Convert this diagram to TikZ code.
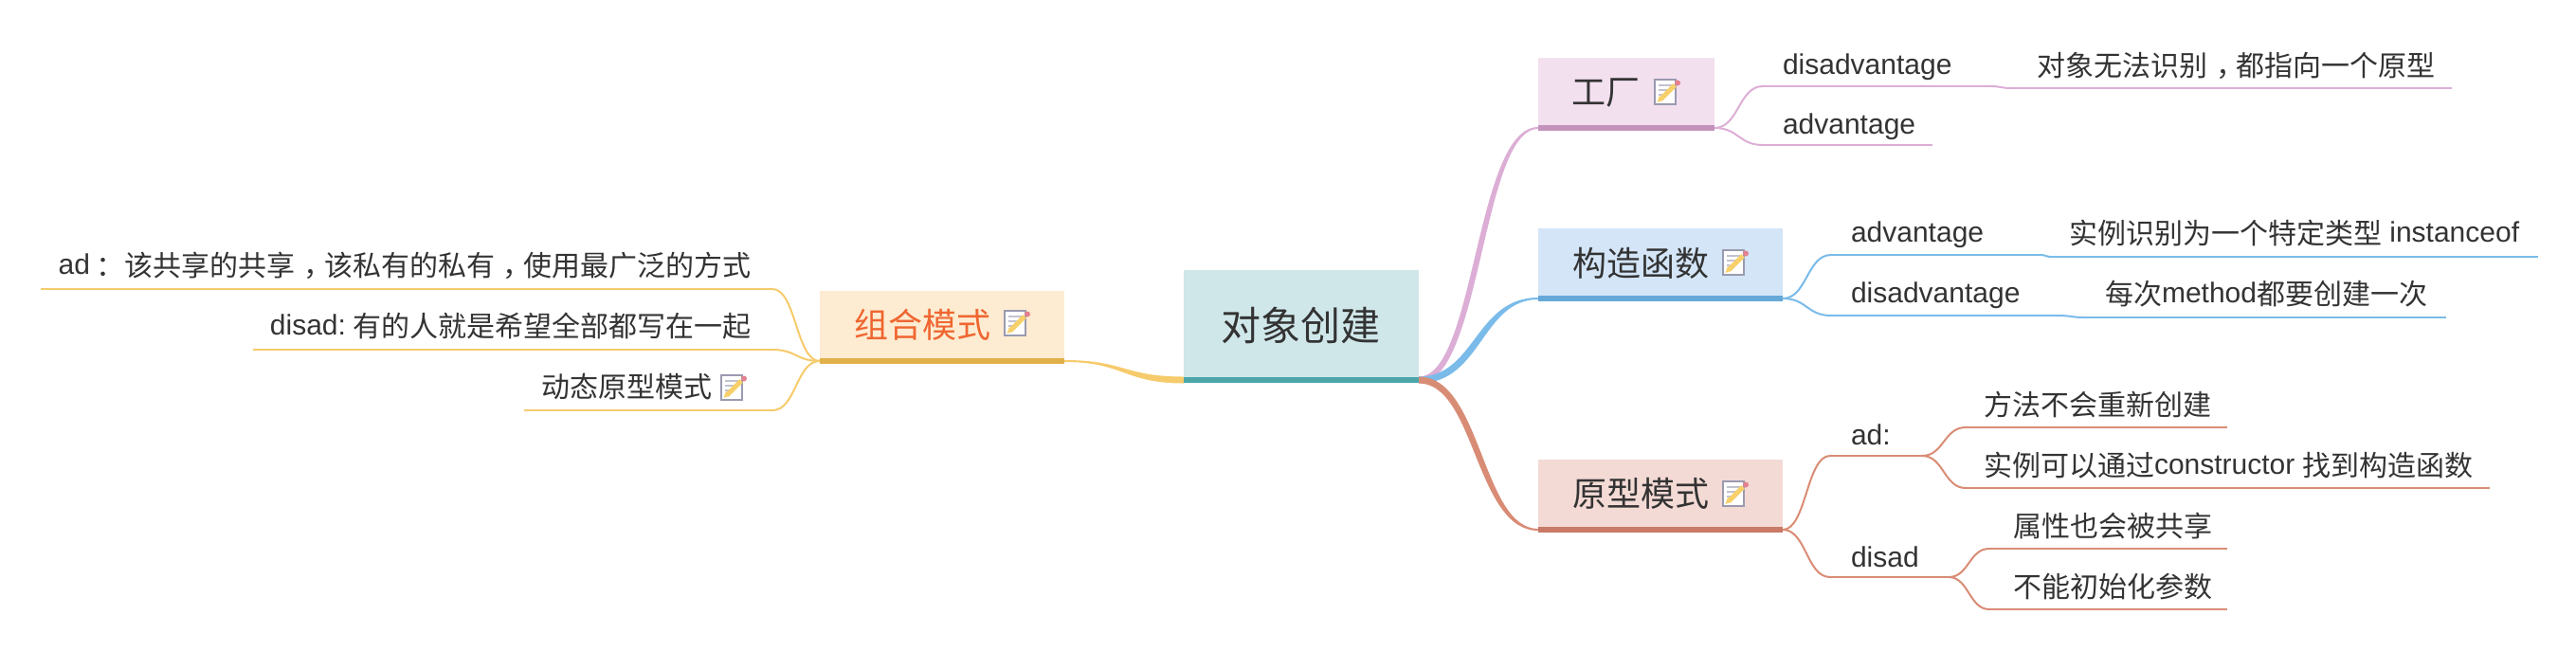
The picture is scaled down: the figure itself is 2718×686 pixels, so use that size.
\documentclass[tikz,border=0pt]{standalone}
\usepackage{fontspec}
\usetikzlibrary{calc}
\setmainfont{Liberation Sans}
\newfontfamily\cjkf{Noto Sans CJK SC}
\definecolor{inkc}{HTML}{333333}
\definecolor{pinkbox}{HTML}{F3E0EF}\definecolor{pinkbar}{HTML}{C493BC}\definecolor{pinkln}{HTML}{DCAED6}
\definecolor{bluebox}{HTML}{D3E5F7}\definecolor{bluebar}{HTML}{66A8D8}\definecolor{blueln}{HTML}{7ABBEA}
\definecolor{redbox}{HTML}{F3DAD5}\definecolor{redbar}{HTML}{C87A66}\definecolor{redln}{HTML}{D98C75}
\definecolor{rootbox}{HTML}{D0E7EA}\definecolor{rootbar}{HTML}{4BA5A9}
\definecolor{orbox}{HTML}{FEECD2}\definecolor{orbar}{HTML}{E0B04A}\definecolor{orln}{HTML}{F6CB6C}\definecolor{ortxt}{HTML}{EF6631}
\definecolor{pencilc}{HTML}{F7D06B}\definecolor{iconln}{HTML}{9A9AB0}\definecolor{icontip}{HTML}{E4808F}
\newcommand\zh[1]{\raisebox{-2.4pt}{\fontsize{30}{36}\cjkf\selectfont #1}}
\newcommand\zhcomma{\hspace{0.3em}，\hspace{-0.3em}}
% tapered connector: colour, from, to, half-width start, half-width end, sideways shift of the bend
\newcommand\taper[6]{\fill[#1] let \p1=(#2),\p2=(#3),\n1={(\x1+\x2)/2} in
  (\x1,\y1+#4pt) .. controls ([xshift=#6pt]\n1,\y1+#4pt) and ([xshift=#6pt]\n1,\y2+#5pt) .. (\x2,\y2+#5pt)
  -- (\x2,\y2-#5pt) .. controls ([xshift=-#6pt]\n1,\y2-#5pt) and ([xshift=-#6pt]\n1,\y1-#4pt) .. (\x1,\y1-#4pt) -- cycle;}
% even curve: style, from, to
\newcommand\conn[3]{\draw[#1] let \p1=(#2),\p2=(#3),\n1={(\x1+\x2)/2} in
  (\x1,\y1) .. controls (\n1,\y1) and (\n1,\y2) .. (\x2,\y2);}
\tikzset{
  x=1pt,y=-1pt,
  boxn/.style={rectangle,inner sep=0pt,outer sep=0pt,anchor=north west},
  roottxt/.style={inner sep=0pt,outer sep=0pt,anchor=base west,text=inkc,font=\fontsize{42}{50}\cjkf\selectfont},
  toptxt/.style={inner sep=0pt,outer sep=0pt,anchor=base west,text=inkc,font=\fontsize{36}{43}\cjkf\selectfont},
  leaf/.style={inner sep=0pt,outer sep=0pt,anchor=base west,text=inkc,font=\fontsize{30}{36}\selectfont},
  leafr/.style={leaf,anchor=base east},
  thin/.style={line width=2pt,line cap=butt},
  noteicon/.pic={
    \fill[white] (1,1) rectangle (23,27);
    \draw[line width=1.8pt,color=iconln] (1,1) rectangle (23,27);
    \draw[line width=1.2pt,color=iconln!60] (5,7) -- (19,7) (5,12) -- (15,12) (5,17) -- (11,17);
    \draw[line width=5pt,color=pencilc] (7,22) -- (22,7);
    \fill[color=pencilc] (3.5,25) -- (6,18) -- (10,22.5) -- cycle;
    \fill[color=icontip] (25,4.5) circle (3);
  }
}
\begin{document}
\begin{tikzpicture}
\useasboundingbox (0,0) rectangle (2718,686);
% boxes
\node[boxn,fill=rootbox,minimum width=248pt,minimum height=119pt] (root) at (1249,285) {};
\node[boxn,fill=pinkbox,minimum width=186pt,minimum height=77pt] (gc) at (1623,61) {};
\node[boxn,fill=bluebox,minimum width=258pt,minimum height=77pt] (gz) at (1623,241) {};
\node[boxn,fill=redbox,minimum width=258pt,minimum height=77pt] (yx) at (1623,485) {};
\node[boxn,fill=orbox,minimum width=258pt,minimum height=77pt] (zh) at (865,307) {};
% connection points
\coordinate (rootR) at ([yshift=3pt]root.south east);
\coordinate (rootL) at ([yshift=3pt]root.south west);
\coordinate (gcL) at ([yshift=3pt]gc.south west);
\coordinate (gcR) at ([yshift=3pt]gc.south east);
\coordinate (gzL) at ([yshift=3pt]gz.south west);
\coordinate (gzR) at ([yshift=3pt]gz.south east);
\coordinate (yxL) at ([yshift=3pt]yx.south west);
\coordinate (yxR) at ([yshift=3pt]yx.south east);
\coordinate (zhR) at ([yshift=3pt]zh.south east);
\coordinate (zhL) at ([yshift=3pt]zh.south west);
% main connectors
\taper{pinkln}{rootR}{gcL}{3.5}{1}{-3.4}
\taper{blueln}{rootR}{gzL}{3.5}{1}{-3.4}
\taper{redln}{rootR}{yxL}{3.5}{1}{3.4}
\taper{orln}{rootL}{zhR}{3.5}{1}{0}
% bars
\fill[rootbar] (root.south west) rectangle ([yshift=6pt]root.south east);
\fill[pinkbar] (gc.south west) rectangle ([yshift=6pt]gc.south east);
\fill[bluebar] (gz.south west) rectangle ([yshift=6pt]gz.south east);
\fill[redbar] (yx.south west) rectangle ([yshift=6pt]yx.south east);
\fill[orbar] (zh.south west) rectangle ([yshift=6pt]zh.south east);
% topic texts
\node[roottxt] (roott) at (1288,359) {对象创建};
\node[toptxt] (gct) at (1658,110) {工厂};
\node[toptxt] (gzt) at (1659,291) {构造函数};
\node[toptxt] (yxt) at (1659,534) {原型模式};
\node[toptxt,text=ortxt] (zht) at (901,356) {组合模式};
\pic at (1745,83) {noteicon};
\pic at (1817,263) {noteicon};
\pic at (1817,507) {noteicon};
\pic at (1059,327) {noteicon};
\pic at (760,395) {noteicon};
% factory branch
\coordinate (a1) at (1860,91); \coordinate (a2) at (2100,91); \coordinate (a3) at (2122,93); \coordinate (a4) at (2587,93);
\coordinate (b1) at (1860,153); \coordinate (b2) at (2039,153);
\conn{thin,pinkln}{gcR}{a1} \draw[thin,pinkln] (a1) -- (a2); \conn{thin,pinkln}{a2}{a3} \draw[thin,pinkln] (a3) -- (a4);
\conn{thin,pinkln}{gcR}{b1} \draw[thin,pinkln] (b1) -- (b2);
\node[leaf] (t1) at (1881,78) {disadvantage};
\node[leaf] (t2) at (2149,78) {\zh{对象无法识别\zhcomma 都指向一个原型}};
\node[leaf] (t3) at (1881,141) {advantage};
% constructor branch
\coordinate (c1) at (1932,269); \coordinate (c2) at (2153,269); \coordinate (c3) at (2164,271); \coordinate (c4) at (2678,271);
\coordinate (d1) at (1932,333); \coordinate (d2) at (2171,333); \coordinate (d3) at (2200,335); \coordinate (d4) at (2581,335);
\conn{thin,blueln}{gzR}{c1} \draw[thin,blueln] (c1) -- (c2); \conn{thin,blueln}{c2}{c3} \draw[thin,blueln] (c3) -- (c4);
\conn{thin,blueln}{gzR}{d1} \draw[thin,blueln] (d1) -- (d2); \conn{thin,blueln}{d2}{d3} \draw[thin,blueln] (d3) -- (d4);
\node[leaf] (t4) at (1953,255) {advantage};
\node[leaf] (t5) at (2183,255) {\zh{实例识别为一个特定类型} instanceof};
\node[leaf] (t6) at (1953,319.5) {disadvantage};
\node[leaf] (t7) at (2221,319.5) {\zh{每次}method\zh{都要创建一次}};
% prototype branch
\coordinate (e1) at (1931,481); \coordinate (e2) at (2028,481);
\coordinate (f1) at (1931,609); \coordinate (f2) at (2056,609);
\coordinate (g1) at (2074,451); \coordinate (g2) at (2350,451);
\coordinate (h1) at (2074,515); \coordinate (h2) at (2627,515);
\coordinate (i1) at (2099,579); \coordinate (i2) at (2350,579);
\coordinate (j1) at (2099,643); \coordinate (j2) at (2350,643);
\conn{thin,redln}{yxR}{e1} \draw[thin,redln] (e1) -- (e2);
\conn{thin,redln}{yxR}{f1} \draw[thin,redln] (f1) -- (f2);
\conn{thin,redln}{e2}{g1} \draw[thin,redln] (g1) -- (g2);
\conn{thin,redln}{e2}{h1} \draw[thin,redln] (h1) -- (h2);
\conn{thin,redln}{f2}{i1} \draw[thin,redln] (i1) -- (i2);
\conn{thin,redln}{f2}{j1} \draw[thin,redln] (j1) -- (j2);
\node[leaf] (t8) at (1953,469) {ad:};
\node[leaf] (t9) at (1953,598) {disad};
\node[leaf] (t10) at (2093,436) {\zh{方法不会重新创建}};
\node[leaf] (t11) at (2093,500.5) {\zh{实例可以通过}constructor \zh{找到构造函数}};
\node[leaf] (t12) at (2124,564) {\zh{属性也会被共享}};
\node[leaf] (t13) at (2124,628) {\zh{不能初始化参数}};
% combined branch
\coordinate (k1) at (815,305); \coordinate (k2) at (43,305);
\coordinate (l1) at (815,369); \coordinate (l2) at (267,369);
\coordinate (m1) at (815,433); \coordinate (m2) at (553,433);
\conn{thin,orln}{zhL}{k1} \draw[thin,orln] (k1) -- (k2);
\conn{thin,orln}{zhL}{l1} \draw[thin,orln] (l1) -- (l2);
\conn{thin,orln}{zhL}{m1} \draw[thin,orln] (m1) -- (m2);
\node[leafr] (t14) at (792,289) {ad\hspace{7pt}\zh{：}\zh{该共享的共享\zhcomma 该私有的私有\zhcomma 使用最广泛的方式}};
\node[leafr] (t15) at (792,353) {disad:\hspace{7pt}\zh{有的人就是希望全部都写在一起}};
\node[leafr] (t16) at (751,417) {\zh{动态原型模式}};
\end{tikzpicture}
\end{document}
